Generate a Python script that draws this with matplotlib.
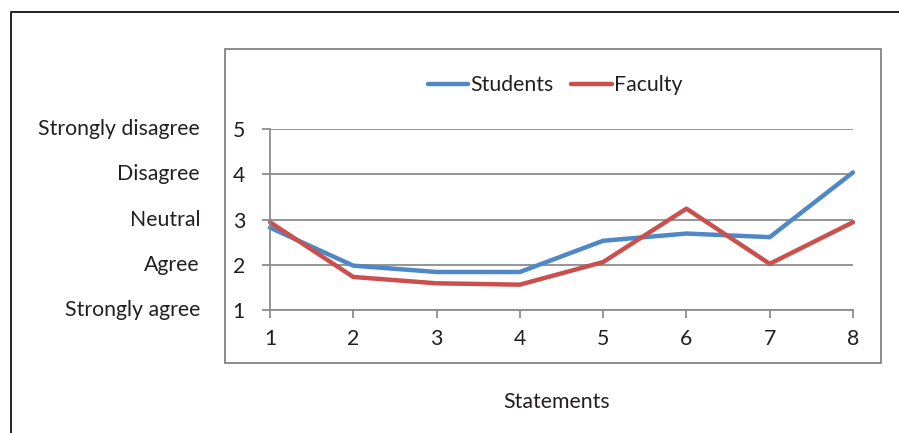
import matplotlib
matplotlib.use("Agg")
import matplotlib.pyplot as plt
from matplotlib.patches import Rectangle
from matplotlib.lines import Line2D
import matplotlib.transforms as mtransforms

statements = [1, 2, 3, 4, 5, 6, 7, 8]
students = [2.82, 1.98, 1.84, 1.84, 2.53, 2.69, 2.61, 4.04]
faculty = [2.94, 1.73, 1.59, 1.56, 2.06, 3.24, 2.02, 2.94]
scale_values = [1, 2, 3, 4, 5]
scale_labels = ["Strongly agree", "Agree", "Neutral", "Disagree", "Strongly disagree"]

W, H = 899, 433
plt.rcParams["font.family"] = ["Lato", "DejaVu Sans"]
text_color = "#231f20"
grid_color = "#8c8c8c"
fs = 15.3

fig = plt.figure(figsize=(W / 100, H / 100), dpi=100)

def fx(px):
    return px / W

def fy(py):
    return 1 - py / H

# outer frame (left and top edges)
fig.add_artist(Line2D([fx(11), fx(11), fx(899)], [fy(433), fy(12), fy(12)],
                      color="#222222", lw=1.4, transform=fig.transFigure))
# chart box
fig.add_artist(Rectangle((fx(225), fy(363)), fx(881) - fx(225), fy(49) - fy(363),
                         fill=False, edgecolor="#6e6e6e", lw=1.1,
                         transform=fig.transFigure))

ax = fig.add_axes([fx(270), fy(310), fx(853) - fx(270), fy(129) - fy(310)])
ax.set_xlim(1, 8)
ax.set_ylim(1, 5)
for s in ["top", "right"]:
    ax.spines[s].set_visible(False)
for s in ["left", "bottom"]:
    ax.spines[s].set_color(grid_color)
    ax.spines[s].set_linewidth(1.3)

ax.set_yticks(scale_values)
ax.set_xticks(statements)
ax.tick_params(axis="both", colors=grid_color, width=1.3, length=6,
               labelcolor=text_color, labelsize=fs)
ax.tick_params(axis="y", pad=12)
ax.tick_params(axis="x", pad=8)
ax.grid(axis="y", color=grid_color, lw=1.3)
ax.set_axisbelow(True)

l1, = ax.plot(statements, students, color="#4f88c6", lw=3.2, clip_on=False,
              solid_capstyle="round", label="Students")
l2, = ax.plot(statements, faculty, color="#c9504d", lw=3.2, clip_on=False,
              solid_capstyle="round", label="Faculty")

# Likert scale names beside the numeric ticks
trans = mtransforms.blended_transform_factory(fig.transFigure, ax.transData)
for v, lab in zip(scale_values, scale_labels):
    ax.text(fx(200), v, lab, transform=trans, ha="right", va="center",
            fontsize=fs, color=text_color)

fig.text(fx(557), fy(402), "Statements", ha="center", va="center",
         fontsize=fs, color=text_color)

fig.legend(handles=[l1, l2], loc="center", bbox_to_anchor=(fx(555), fy(85)),
           ncol=2, frameon=False, fontsize=fs, handlelength=1.9,
           handletextpad=0.1, columnspacing=0.85, labelcolor=text_color)

fig.savefig("out.png", dpi=100)
